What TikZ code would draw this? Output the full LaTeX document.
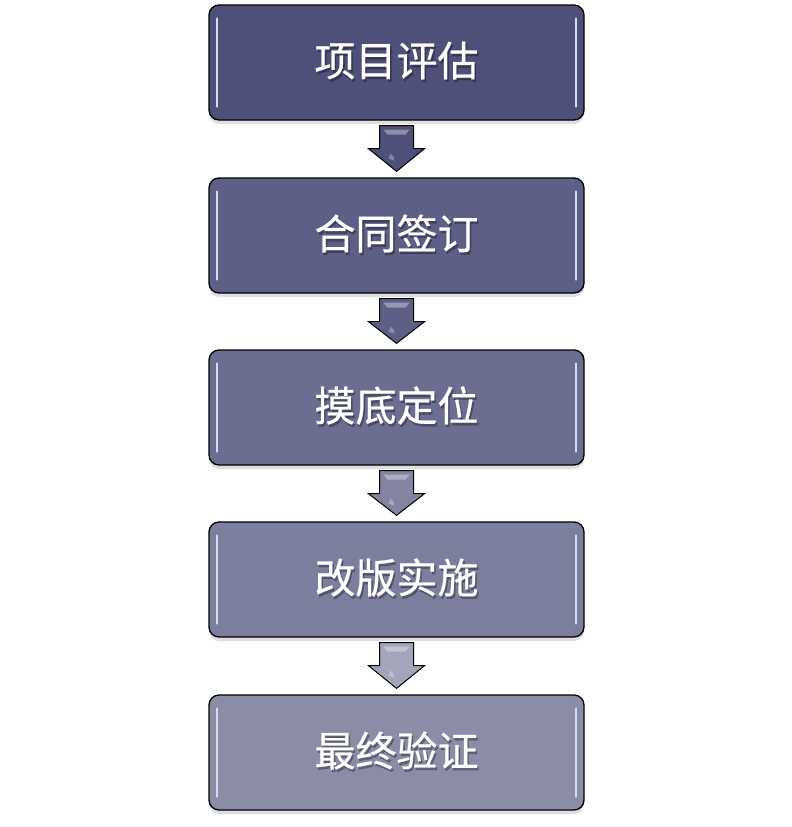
\documentclass[tikz,border=0pt]{standalone}
\usepackage{fontspec}
\newfontfamily\cjk[FakeBold=0.6]{Noto Sans CJK SC}
\usetikzlibrary{shadows,calc}
\definecolor{c1}{HTML}{4F5079}
\definecolor{c2}{HTML}{5D5F86}
\definecolor{c3}{HTML}{6C6E91}
\definecolor{c4}{HTML}{7C7E9D}
\definecolor{c5}{HTML}{8B8DA7}
\definecolor{hl}{HTML}{D8DAF0}
\tikzset{
  stepbox/.style={draw=black, line width=1.3pt, rounded corners=10pt, minimum width=375pt, minimum height=115pt, inner sep=0pt,
    drop shadow={shadow xshift=0pt, shadow yshift=-4pt, opacity=0.25}},
  lbl/.style={font=\cjk\fontsize{41}{44}\selectfont, text=white},
  lblsh/.style={font=\cjk\fontsize{41}{44}\selectfont, text=black, opacity=0.3},
  hlline/.style={draw=hl, line width=2.2pt, line cap=round},
  arr/.style={draw=black, line width=1pt, line join=miter}
}
\newcommand{\flowbox}[4]{%
  \node[stepbox, fill=#3] (#1) at (396.5,#2) {};
  \node[lblsh] (#1s) at ($(#1.center)+(1.5,0.5)$) {#4};
  \node[lbl] (#1t) at ($(#1.center)+(0,-2)$) {#4};
  \draw[hlline] ($(#1.north west)+(9,14)$) -- ($(#1.south west)+(9,-14)$);
  \draw[hlline] ($(#1.north east)+(-9,14)$) -- ($(#1.south east)+(-9,-14)$);
}
\newcommand{\flowarrow}[3]{%
  \coordinate (#1a) at ($(#2.south)+(0,5)$);
  \coordinate (#1b) at ($(#3.north)+(0,-6)$);
  \filldraw[arr, fill=#1col] ($(#1a)+(-17,0)$) -- ($(#1a)+(17,0)$) -- ($(#1a)+(17,23)$) -- ($(#1a)+(28,23)$) -- (#1b) -- ($(#1a)+(-28,23)$) -- ($(#1a)+(-17,23)$) -- cycle;
  \fill[white, opacity=0.35] ($(#1a)+(-13,4)$) -- ($(#1a)+(13,4)$) -- ($(#1a)+(9,9)$) -- ($(#1a)+(-9,9)$) -- cycle;
  \fill[white, opacity=0.3] ($(#1a)+(-6,28)$) to[bend left=30] ($(#1a)+(-2,35)$) -- ($(#1a)+(-8,33)$) -- cycle;
}
\colorlet{ar1col}{c1}
\colorlet{ar2col}{c2}
\colorlet{ar3col}{c3!85!white}
\colorlet{ar4col}{c4!70!white}
\begin{document}
\begin{tikzpicture}[x=1pt,y=-1pt]
\useasboundingbox (0,0) rectangle (792,827);
\flowbox{b1}{62.5}{c1}{项目评估}
\flowbox{b2}{235.5}{c2}{合同签订}
\flowbox{b3}{407.5}{c3}{摸底定位}
\flowbox{b4}{579.5}{c4}{改版实施}
\flowbox{b5}{752.5}{c5}{最终验证}
\flowarrow{ar1}{b1}{b2}
\flowarrow{ar2}{b2}{b3}
\flowarrow{ar3}{b3}{b4}
\flowarrow{ar4}{b4}{b5}
\end{tikzpicture}
\end{document}
